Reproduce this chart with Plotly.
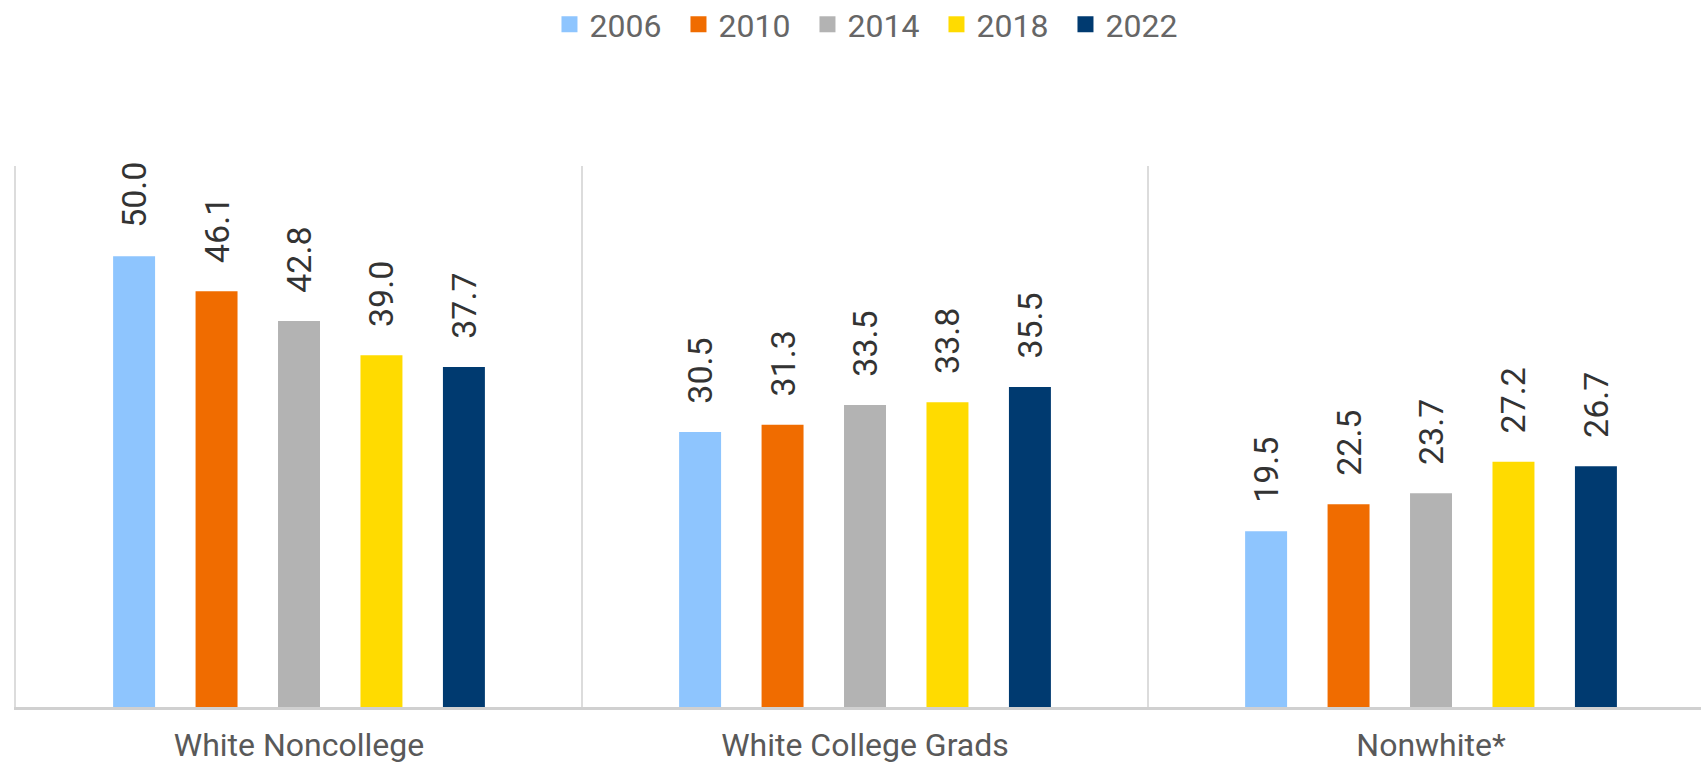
import plotly.graph_objects as go

categories = ["White Noncollege", "White College Grads", "Nonwhite*"]
years = ["2006", "2010", "2014", "2018", "2022"]
values = {
    "2006": [50.0, 30.5, 19.5],
    "2010": [46.1, 31.3, 22.5],
    "2014": [42.8, 33.5, 23.7],
    "2018": [39.0, 33.8, 27.2],
    "2022": [37.7, 35.5, 26.7],
}
colors = {
    "2006": "#8EC5FE",
    "2010": "#F06C00",
    "2014": "#B3B3B3",
    "2018": "#FFDB00",
    "2022": "#003A70",
}

fig = go.Figure()
for yr in years:
    fig.add_trace(go.Bar(
        name=yr,
        x=categories,
        y=values[yr],
        marker=dict(color=colors[yr], line=dict(width=0)),
        text=[f"{v:.1f}" for v in values[yr]],
        texttemplate="\u00a0\u00a0\u00a0%{text}",
        textposition="outside",
        textangle=-90,
        constraintext="none",
        cliponaxis=False,
        textfont=dict(family="Roboto", size=34, color="#333333"),
        showlegend=False,
        legendgroup=yr,
    ))
# legend-only entries with larger square swatches
for yr in years:
    fig.add_trace(go.Scatter(
        name=yr,
        x=[None], y=[None],
        mode="markers",
        marker=dict(symbol="square", size=18, color=colors[yr]),
        showlegend=True,
        legendgroup=yr,
        hoverinfo="skip",
    ))

fig.update_layout(
    width=1701,
    height=765,
    paper_bgcolor="white",
    plot_bgcolor="white",
    barmode="group",
    bargap=0.2716,
    bargroupgap=0.491,
    margin=dict(l=16, r=0, t=166, b=58),
    font=dict(family="Roboto", color="#666666"),
    legend=dict(
        orientation="h",
        x=0.508, xanchor="center",
        y=0.968, yref="container", yanchor="middle",
        font=dict(family="Roboto", size=32, color="#666666"),
        entrywidth=84,
        traceorder="normal",
    ),
    showlegend=True,
)
fig.update_xaxes(
    type="category",
    range=[-0.5, 2.477],
    tickson="boundaries",
    showgrid=True,
    gridcolor="#DCDCDC",
    gridwidth=2,
    showline=True,
    linecolor="#D0D0D0",
    linewidth=3,
    ticks="",
    ticklabelstandoff=8,
    tickfont=dict(family="Roboto", size=32, color="#595959"),
)
fig.update_yaxes(
    range=[0, 60],
    showgrid=False,
    zeroline=False,
    showticklabels=False,
    showline=True,
    linecolor="#DCDCDC",
    linewidth=2,
)

fig.write_html(
    "out.html",
    config={"displayModeBar": False},
    post_script="document.body.style.margin='0';",
)
